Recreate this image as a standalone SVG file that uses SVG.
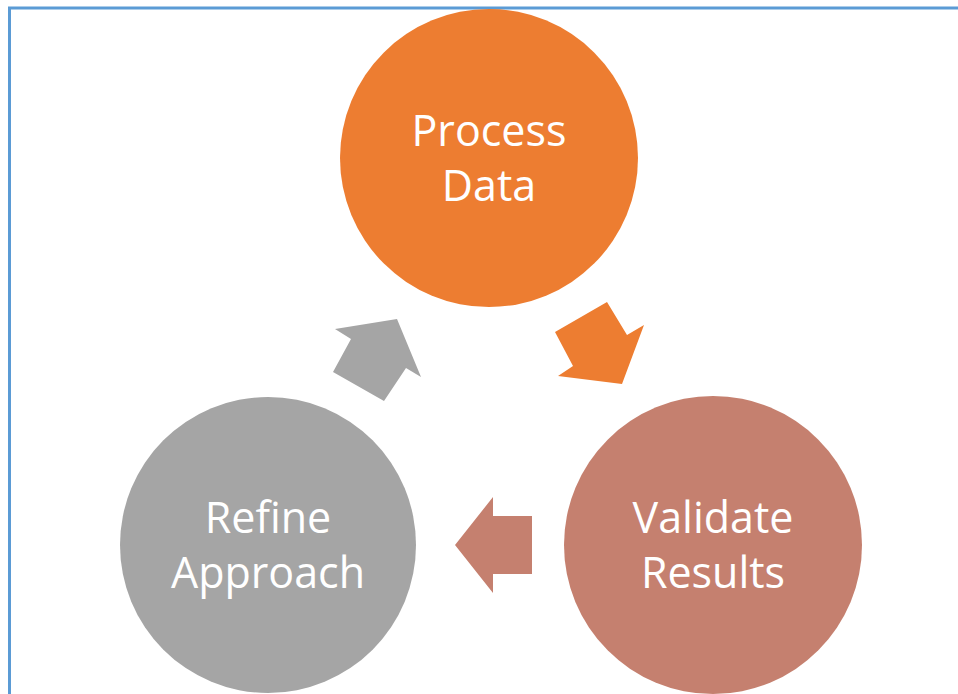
<svg xmlns="http://www.w3.org/2000/svg" width="958" height="694" viewBox="0 0 958 694">
<style>
.lbl{font-family:"Open Sans","Liberation Sans",sans-serif;font-size:43px;fill:#fff;text-anchor:middle}
</style>
<rect width="958" height="694" fill="#fff"/>
<path d="M9.5 694 V8 H958" fill="none" stroke="#5B9BD5" stroke-width="3"/>
<g id="connectors">
<polygon points="555,332 607,302 627,335 644,325 622,384 558,376 573,366" fill="#ED7D31"/>
<polygon points="532,516 532,574 493,574 493,593 455,545 493,497 493,516" fill="#C5806F"/>
<polygon points="335,329 397,319 421,377 406,368 384,401 333,372 351,339" fill="#A5A5A5"/>
</g>
<g id="process-data">
<circle cx="489" cy="158" r="149" fill="#ED7D31"/>
<text class="lbl" x="489" y="146">Process</text>
<text class="lbl" x="489" y="201">Data</text>
</g>
<g id="validate-results">
<circle cx="713" cy="545" r="149" fill="#C5806F"/>
<text class="lbl" x="713" y="533">Validate</text>
<text class="lbl" x="713" y="588">Results</text>
</g>
<g id="refine-approach">
<circle cx="268" cy="545" r="148" fill="#A5A5A5"/>
<text class="lbl" x="268" y="533">Refine</text>
<text class="lbl" x="268" y="588">Approach</text>
</g>
</svg>
